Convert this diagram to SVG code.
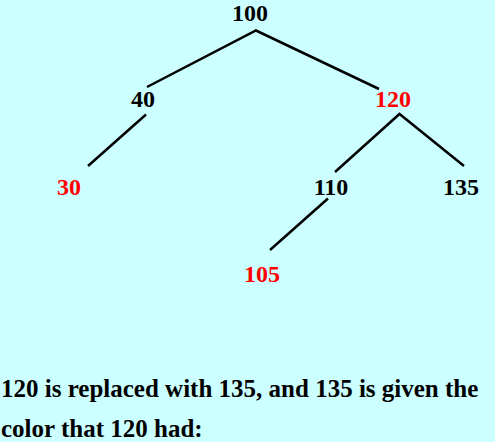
<svg xmlns="http://www.w3.org/2000/svg" width="495" height="442" viewBox="0 0 495 442">
<style>
text{font-family:"Liberation Serif","Times New Roman",serif;font-weight:bold;font-size:24px;}
.n{text-anchor:middle;fill:#000;}
.r{fill:#ff0000;}
.e{stroke:#000;stroke-width:2.5;fill:none;}
.cap{fill:#000;font-size:25px;}
</style>
<rect width="495" height="442" fill="#ccffff"/>
<g id="connectors">
<polyline class="e" points="147,87 256,30.5 379,89"/>
<line class="e" x1="146" y1="114.5" x2="88" y2="166"/>
<polyline class="e" points="335,172 399.5,114 464,166"/>
<line class="e" x1="328" y1="198.5" x2="270" y2="250"/>
</g>
<g id="n100"><text class="n" x="250" y="21">100</text></g>
<g id="n40"><text class="n" x="143" y="107">40</text></g>
<g id="n120"><text class="n r" x="393" y="107">120</text></g>
<g id="n30"><text class="n r" x="69" y="195">30</text></g>
<g id="n110"><text class="n" x="331" y="195">110</text></g>
<g id="n135"><text class="n" x="461" y="195">135</text></g>
<g id="n105"><text class="n r" x="262" y="281.5">105</text></g>
<g id="caption">
<text class="cap" x="1" y="396.5">120 is replaced with 135, and 135 is given the</text>
<text class="cap" x="1" y="436.5">color that 120 had:</text>
</g>
</svg>
